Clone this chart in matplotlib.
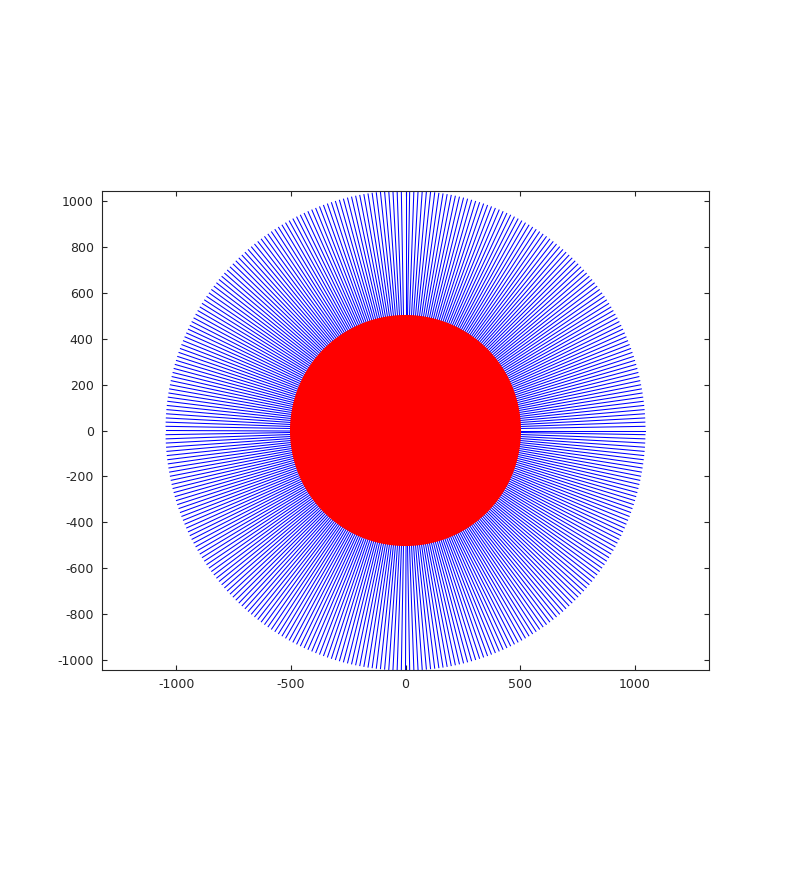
import numpy as np
import matplotlib
matplotlib.use("Agg")
import matplotlib.pyplot as plt

# rays every degree, plus a filled disc in the middle
ray_angles_deg = np.arange(0, 360, 1)
ray_length = 1044
disc_radius = 500
x_ticks = [-1000, -500, 0, 500, 1000]
y_ticks = [-1000, -800, -600, -400, -200, 0, 200, 400, 600, 800, 1000]

plt.rcParams["axes.unicode_minus"] = False

fig = plt.figure(figsize=(7.85, 8.93), dpi=100)
left, right, bottom, top = 102 / 785, 709 / 785, (893 - 670) / 893, (893 - 191) / 893
ax = fig.add_axes([left, bottom, right - left, top - bottom])

theta = np.deg2rad(ray_angles_deg)
for t in theta:
    ax.plot([0, ray_length * np.cos(t)], [0, ray_length * np.sin(t)],
            color="#0000ff", linewidth=0.75, antialiased=True)

phi = np.linspace(0, 2 * np.pi, 400)
ax.fill(disc_radius * np.cos(phi), disc_radius * np.sin(phi), facecolor="#ff0000",
        edgecolor="#ff0000", linewidth=1.2, zorder=3)

# equal scale: y fixed, x follows from the pixel box
w_px = 709 - 102
h_px = 670 - 191
ax.set_ylim(-ray_length, ray_length)
ax.set_xlim(-ray_length * w_px / h_px, ray_length * w_px / h_px)

ax.set_xticks(x_ticks)
ax.set_yticks(y_ticks)
ax.tick_params(direction="in", length=3.6, width=0.8, top=True, right=True,
               labelsize=9, colors="#262626", pad=6)
for s in ax.spines.values():
    s.set_color("#262626")
    s.set_linewidth(0.8)

fig.savefig("out.png", dpi=100)
